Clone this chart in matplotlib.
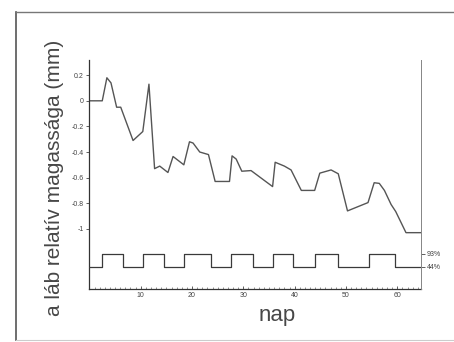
import matplotlib.pyplot as plt
from matplotlib.ticker import MultipleLocator
from matplotlib.lines import Line2D

plt.rcParams['font.family'] = ['Liberation Sans', 'DejaVu Sans']

# relative leg height (mm) by day
day = [0, 2.5, 3.4, 4.2, 5.3, 6.1, 8.5, 10.4, 11.6, 12.7, 13.7, 15.3, 16.3, 18.4,
       19.5, 20.2, 21.5, 23.2, 24.5, 27.3, 27.8, 28.6, 29.7, 31.5, 35.7, 36.2,
       38.0, 39.3, 41.3, 43.9, 44.9, 47.1, 48.5, 50.3, 54.3, 55.5, 56.5, 57.5,
       58.8, 59.7, 61.7, 64.5]
height = [0, 0, 0.18, 0.14, -0.05, -0.05, -0.31, -0.24, 0.13, -0.53, -0.51, -0.56,
          -0.435, -0.5, -0.32, -0.33, -0.40, -0.42, -0.63, -0.63, -0.43, -0.455,
          -0.55, -0.545, -0.67, -0.48, -0.51, -0.54, -0.70, -0.70, -0.565, -0.54,
          -0.57, -0.86, -0.795, -0.64, -0.645, -0.70, -0.81, -0.865, -1.03, -1.03]

# humidity schedule (%)
step_day = [0, 2.5, 6.6, 10.5, 14.5, 18.4, 23.6, 27.6, 31.8, 35.7, 39.6, 43.9,
            48.5, 54.4, 59.6, 64.6]
humidity = [44, 93, 44, 93, 44, 93, 44, 93, 44, 93, 44, 93, 44, 93, 44, 44]

y_ticks = [0.2, 0, -0.2, -0.4, -0.6, -0.8, -1]
y_labels = ['0.2', '0', '-0.2', '-0.4', '-0.6', '-0.8', '-1']
x_ticks = [10, 20, 30, 40, 50, 60]

fig = plt.figure(figsize=(4.54, 3.42), dpi=100)
ax = fig.add_axes([0.197, 0.155, 0.730, 0.670])

ink = '#555555'
ax.plot(day, height, color=ink, lw=1.0)
ax.set_xlim(0, 64.6)
ax.set_ylim(-1.47, 0.32)

ax.set_yticks(y_ticks)
ax.set_yticklabels(y_labels)
ax.set_xticks(x_ticks)
ax.xaxis.set_minor_locator(MultipleLocator(1))
ax.tick_params(axis='both', labelsize=5, colors='#444444', length=2, width=0.6, pad=2)
ax.tick_params(axis='x', which='minor', direction='in', length=1.5, width=0.5, colors='#666666')
ax.tick_params(axis='x', which='major', direction='in', length=2)
ax.spines['top'].set_visible(False)
for s in ['left', 'right', 'bottom']:
    ax.spines[s].set_color('#333333')
    ax.spines[s].set_linewidth(0.9)
ax.spines['right'].set_color('#888888')
ax.spines['right'].set_linewidth(0.7)

ax2 = ax.twinx()
ax2.step(step_day, humidity, where='post', color='#3a3a3a', lw=0.9)
ax2.set_ylim(-38.9, 824)
ax2.set_yticks([93, 44])
ax2.set_yticklabels(['93%', '44%'])
ax2.tick_params(axis='y', labelsize=5, colors='#444444', length=3, width=0.6, pad=1)
for s in ['top', 'left', 'bottom']:
    ax2.spines[s].set_visible(False)
ax2.spines['right'].set_color('#888888')
ax2.spines['right'].set_linewidth(0.7)

ax.set_ylabel('a láb relatív magassága (mm)', fontsize=15, color='#474747',
              va='center')
ax.yaxis.set_label_coords(-0.105, 0.483)
ax.set_xlabel('nap', fontsize=16, color='#474747', va='center')
ax.xaxis.set_label_coords(0.566, -0.115)

# scanned page frame
fig.add_artist(Line2D([0.035, 0.035], [0.005, 0.965], color='#555555', lw=1.2))
fig.add_artist(Line2D([0.035, 1.0], [0.965, 0.965], color='#777777', lw=1.0))
fig.add_artist(Line2D([0.035, 1.0], [0.006, 0.006], color='#cccccc', lw=0.8))

fig.savefig('out.png', dpi=100)
